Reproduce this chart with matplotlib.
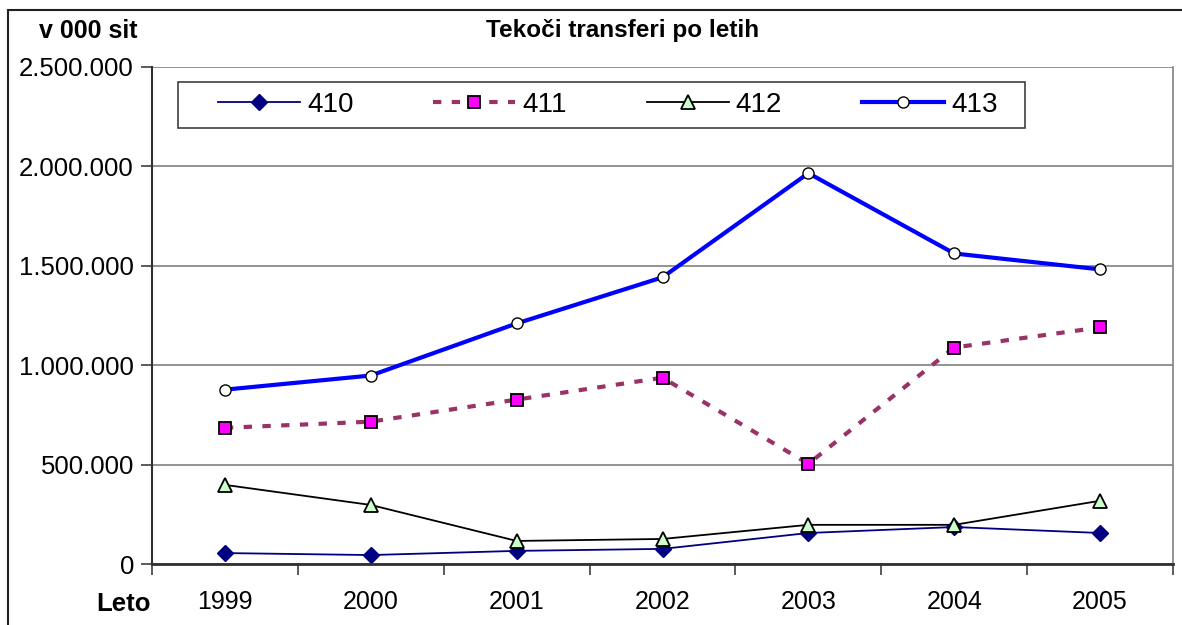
import matplotlib
matplotlib.use("Agg")
import matplotlib.pyplot as plt
from matplotlib.ticker import FuncFormatter, FixedLocator
from matplotlib.patches import Rectangle

years = ["1999", "2000", "2001", "2002", "2003", "2004", "2005"]
s410 = [55000, 45000, 66000, 76000, 156000, 186000, 156000]
s411 = [685000, 716000, 827000, 937000, 504000, 1089000, 1190000]
s412 = [398000, 297000, 116000, 126000, 197000, 197000, 318000]
s413 = [877000, 948000, 1210000, 1442000, 1966000, 1562000, 1482000]

plt.rcParams["font.family"] = ["Liberation Sans", "DejaVu Sans"]


def thousands(v, pos):
    return f"{int(v):,}".replace(",", ".")


def main():
    fig = plt.figure(figsize=(11.82, 6.25), dpi=100)
    ax = fig.add_axes([152 / 1182, 1 - 564 / 625, (1173 - 152) / 1182, (564 - 67) / 625])

    x = list(range(len(years)))
    ax.plot(x, s410, color="#000080", lw=1.3, marker="D", ms=8,
            mfc="#000080", mec="#000080", label="410")
    ax.plot(x, s411, color="#993366", lw=3, ls=(0, (2, 2.5)), marker="s", ms=8,
            mfc="#ff00ff", mec="black", mew=1.3, label="411")
    ax.plot(x, s412, color="black", lw=1.3, marker="^", ms=10,
            mfc="#ccffcc", mec="black", mew=1.3, label="412")
    ax.plot(x, s413, color="#0000ff", lw=3, marker="o", ms=8,
            mfc="white", mec="black", mew=1.0, label="413")

    ax.set_xlim(-0.5, len(years) - 0.5)
    ax.set_ylim(0, 2500000)
    ax.yaxis.set_major_locator(FixedLocator([0, 500000, 1000000, 1500000, 2000000, 2500000]))
    ax.yaxis.set_major_formatter(FuncFormatter(thousands))
    ax.set_xticks(x)
    ax.set_xticklabels(years)
    ax.set_xticks([i + 0.5 for i in range(-1, len(years))], minor=True)
    ax.tick_params(axis="x", which="major", length=0, pad=19, labelsize=18)
    ax.tick_params(axis="x", which="minor", length=8, width=1.2, color="#404040")
    ax.tick_params(axis="y", length=8, width=1.2, color="#404040", labelsize=18.5, pad=5)

    ax.grid(axis="y", color="#808080", lw=1.2)
    ax.set_axisbelow(True)
    ax.spines["top"].set_visible(False)
    ax.spines["right"].set_color("#808080")
    ax.spines["right"].set_linewidth(1.2)
    ax.spines["left"].set_color("#303030")
    ax.spines["bottom"].set_color("#303030")
    ax.spines["left"].set_linewidth(1.5)
    ax.spines["bottom"].set_linewidth(2)

    # legend box drawn separately, legend entries placed inside it
    ax.add_patch(Rectangle((26 / 1021, 1 - 61 / 497), 847 / 1021, 46 / 497,
                           transform=ax.transAxes, facecolor="white", edgecolor="#404040",
                           lw=1.2, zorder=4))
    ax.legend(loc="center left", bbox_to_anchor=(66 / 1021, 1 - 38 / 497),
              ncol=4, fontsize=20, frameon=False, handlelength=2.95,
              handletextpad=0.25, columnspacing=2.88, borderpad=0, borderaxespad=0)

    fig.text(623 / 1182, 1 - 31 / 625, "Tekoči transferi po letih", ha="center", va="center",
             fontsize=17.5, fontweight="bold")
    fig.text(88 / 1182, 1 - 31 / 625, "v 000 sit", ha="center", va="center",
             fontsize=18, fontweight="bold")
    fig.text(124 / 1182, 1 - 604 / 625, "Leto", ha="center", va="center",
             fontsize=18.5, fontweight="bold")

    fig.patches.append(Rectangle((8 / 1182, -0.1), 1.2, 1.1 - 10 / 625, transform=fig.transFigure,
                                 fill=False, edgecolor="#202020", lw=1.5))

    fig.savefig("out.png", dpi=100)


if __name__ == "__main__":
    main()
